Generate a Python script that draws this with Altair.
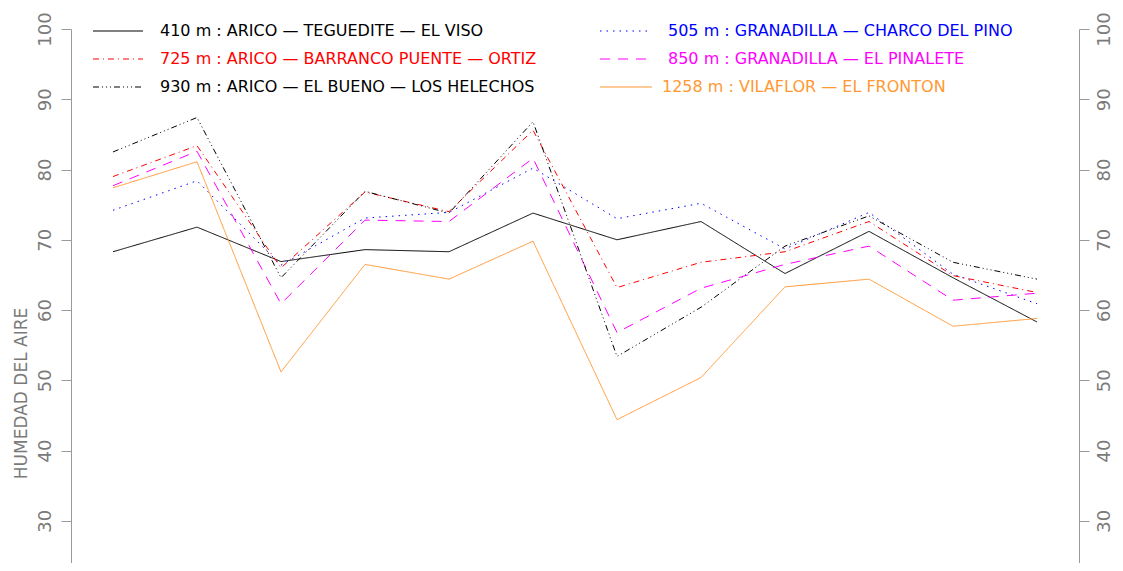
import altair as alt
import pandas as pd

# ---- data ----
puntos = [1, 2, 3, 4, 5, 6, 7, 8, 9, 10, 11, 12]
altitudes = ["410", "505", "725", "850", "930", "1258"]
nombres = [
    "ARICO — TEGUEDITE — EL VISO",
    "GRANADILLA — CHARCO DEL PINO",
    "ARICO — BARRANCO PUENTE — ORTIZ",
    "GRANADILLA — EL PINALETE",
    "ARICO — EL BUENO — LOS HELECHOS",
    "VILAFLOR — EL FRONTON",
]
h410 = [68.3, 71.8, 66.9, 68.6, 68.3, 73.8, 70.0, 72.6, 65.2, 71.2, 64.6, 58.3]
h505 = [74.2, 78.4, 66.4, 73.1, 73.9, 80.2, 73.0, 75.2, 68.7, 73.9, 65.1, 60.9]
h725 = [79.0, 83.4, 66.0, 76.8, 74.0, 85.6, 63.2, 66.8, 68.3, 72.6, 64.9, 62.5]
h850 = [77.7, 82.6, 60.9, 72.8, 72.6, 81.6, 56.8, 63.1, 66.5, 69.1, 61.4, 62.4]
h930 = [82.5, 87.4, 64.6, 76.9, 73.8, 86.8, 53.4, 60.4, 69.1, 73.4, 66.8, 64.4]
h1258 = [77.4, 81.1, 51.2, 66.5, 64.4, 69.8, 44.4, 50.4, 63.3, 64.4, 57.7, 58.8]
y_ticks = [30, 40, 50, 60, 70, 80, 90, 100]

series = [h410, h505, h725, h850, h930, h1258]

# ---- styles ----
colores = ["#000000", "#0000ff", "#ff0000", "#ff00ff", "#000000", "#ff9933"]
dashes = [[1, 0], [1.5, 5], [6, 4, 1, 4], [10, 8], [6, 3, 1, 3, 1, 3, 1, 3], [1, 0]]
etiquetas = [f"{a} m : {n}" for a, n in zip(altitudes, nombres)]

rows = []
for lab, vals in zip(etiquetas, series):
    for p, v in zip(puntos, vals):
        rows.append({"serie": lab, "punto": p, "hum": v})
df = pd.DataFrame(rows)

# legend layout (pixels inside plot area)
leg_col = {"410": 0, "725": 0, "930": 0, "505": 1, "850": 1, "1258": 1}
leg_row = {"410": 0, "725": 1, "930": 2, "505": 0, "850": 1, "1258": 2}
line_x0 = [22, 529]
line_x1 = [72, 581]
text_x = [89, 597]
leg = []
for a, lab in zip(altitudes, etiquetas):
    c = leg_col[a]
    leg.append({
        "serie": lab,
        "x0": line_x0[c],
        "x1": line_x1[c],
        "tx": text_x[c] - (6 if len(a) == 4 else 0),
        "y": 2 + 28 * leg_row[a],
    })
leg_df = pd.DataFrame(leg)

FONT = "DejaVu Sans"
color_scale = alt.Scale(domain=etiquetas, range=colores)
dash_scale = alt.Scale(domain=etiquetas, range=dashes)
x_enc = alt.X("punto:Q", scale=alt.Scale(domain=[0.5, 12.5], nice=False, zero=False), axis=None)
y_scale = alt.Scale(domain=[24, 100], nice=False, zero=False)

axis_common = dict(
    values=y_ticks, grid=False, tickSize=10, labelAngle=270, labelAlign="center",
    labelBaseline="middle", labelFont=FONT, labelFontSize=18, labelColor="#7a7a7a",
    domainColor="#9a9a9a", tickColor="#9a9a9a", labelFlush=False, labelOverlap=False,
)

lines = alt.Chart(df).mark_line(strokeWidth=1, clip=True).encode(
    x=x_enc,
    y=alt.Y("hum:Q", scale=y_scale, axis=alt.Axis(
        orient="left", labelPadding=16, title="HUMEDAD DEL AIRE",
        titleFont=FONT, titleFontSize=17, titleFontWeight="normal", titleColor="#7a7a7a",
        titleAngle=270, titleAlign="center", titleBaseline="middle",
        titleX=-50, titleY=364, **axis_common)),
    color=alt.Color("serie:N", scale=color_scale, legend=None),
    strokeDash=alt.StrokeDash("serie:N", scale=dash_scale, legend=None),
    detail="serie:N",
)

right = alt.Chart(df).mark_point(opacity=0).encode(
    x=x_enc,
    y=alt.Y("hum:Q", scale=y_scale, axis=alt.Axis(orient="right", labelPadding=15, title=None, **axis_common)),
)

leg_rules = alt.Chart(leg_df).mark_rule(strokeWidth=1).encode(
    x=alt.X("x0:Q", scale=None),
    x2="x1:Q",
    y=alt.Y("y:Q", scale=None),
    color=alt.Color("serie:N", scale=color_scale, legend=None),
    strokeDash=alt.StrokeDash("serie:N", scale=dash_scale, legend=None),
)

leg_text = alt.Chart(leg_df).mark_text(align="left", baseline="middle", font=FONT, fontSize=16).encode(
    x=alt.X("tx:Q", scale=None),
    y=alt.Y("y:Q", scale=None),
    text="serie:N",
    color=alt.Color("serie:N", scale=color_scale, legend=None),
)

chart = alt.layer(lines, right, leg_rules, leg_text).resolve_axis(y="independent").properties(
    width=1008, height=534,
    autosize=alt.AutoSizeParams(type="none"),
    padding={"left": 63, "top": 21, "right": 36, "bottom": 0},
).configure_view(stroke=None)

chart.save("out.html", embed_options={"renderer": "svg", "actions": False})
